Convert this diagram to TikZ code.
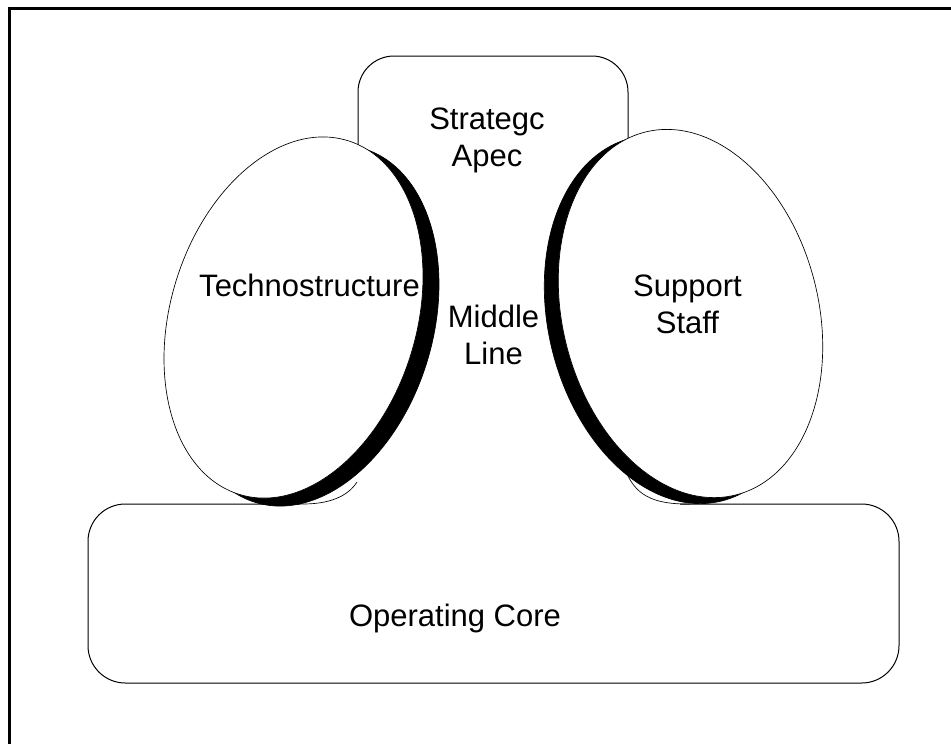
\documentclass[tikz,border=0pt]{standalone}
\usepackage{fontspec}
\setmainfont{Liberation Sans}
\usepackage{xcolor}

\begin{document}
\begin{tikzpicture}[x=0.75pt,y=0.75pt,yscale=-1,xscale=1,
  part/.style={draw=black,fill=white,line width=0.75pt},
  shade/.style={draw=black,fill=black,line width=0.5pt},
  lbl/.style={inner sep=0.75pt,align=center,font=\fontsize{23.25}{27.75}\selectfont}]
\useasboundingbox (0,0) rectangle (951,744);

%Shape: Frame [id:dp1]
\draw [line width=2.25pt]  (951,8.5) -- (9,8.5) -- (9,744) ;
%Shape: Rounded Rect [id:dp2]
\draw [part, rounded corners=27pt]  (358,300) -- (358,56) -- (628,56) -- (628,300) ;
%Shape: Rounded Rect [id:dp3]
\draw [part, rounded corners=28pt]  (88,504) rectangle (899,683) ;
%Shape: Rectangle [id:dp4]
\fill [white]  (300,497) rectangle (680,510) ;

%Curve Lines [id:da5]
\draw [line width=0.5pt]  (300,504) .. controls (330,504.5) and (348,496) .. (357,482) ;
%Shape: Ellipse [id:dp6]
\draw [shade, rotate around={17:(309.5,325.5)}]  (309.5,325.5) ellipse (123 and 185) ;
%Shape: Ellipse [id:dp7]
\draw [part, line width=0.5pt, rotate around={17:(293.5,317.5)}]  (293.5,317.5) ellipse (123 and 185) ;

%Curve Lines [id:da8]
\draw [line width=0.5pt]  (628,476) .. controls (638,496) and (655,504.5) .. (690,504) ;
%Shape: Ellipse [id:dp9]
\draw [shade, rotate around={-14:(676.5,319.5)}]  (676.5,319.5) ellipse (128 and 187) ;
%Shape: Ellipse [id:dp10]
\draw [part, line width=0.5pt, rotate around={-14:(690.5,313.5)}]  (690.5,313.5) ellipse (128 and 187) ;

% Text Node
\draw (487,140) node (apex) [lbl] {Strategc\\Apec};
% Text Node
\draw (309.5,285) node (techno) [lbl] {Technostructure};
% Text Node
\draw (493.5,335) node (middle) [lbl] {Middle\\Line};
% Text Node
\draw (687.5,304) node (support) [lbl] {Support\\Staff};
% Text Node
\draw (455,618) node (core) [lbl] {Operating Core};

\end{tikzpicture}
\end{document}
